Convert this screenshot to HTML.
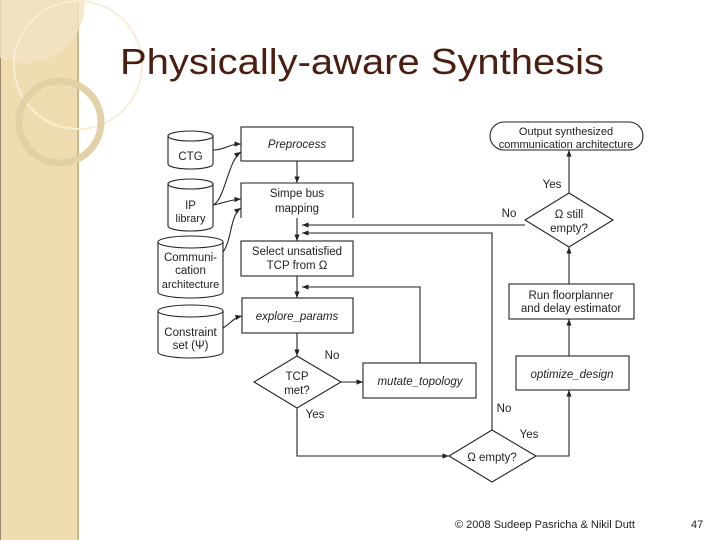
<!DOCTYPE html>
<html><head><meta charset="utf-8"><style>
html,body{margin:0;padding:0;background:#fff;}
svg{display:block;}
text{font-family:"Liberation Sans",sans-serif;fill:#222;}
</style></head><body>
<svg width="720" height="540" viewBox="0 0 720 540" xmlns="http://www.w3.org/2000/svg">
<defs>
<marker id="a" viewBox="0 0 10 10" refX="10" refY="5" markerWidth="6" markerHeight="6" orient="auto"><path d="M0,1 L10,5 L0,9 z" fill="#222"/></marker>
</defs>
<!-- sidebar -->
<rect x="0" y="0" width="78" height="540" fill="#efdcb0"/>
<rect x="77" y="0" width="2" height="540" fill="#c9b78f"/>
<rect x="0" y="0" width="1" height="540" fill="#9a8a6a"/>
<circle cx="25" cy="3" r="60" fill="#f3e5c4" opacity="0.8"/>
<circle cx="78" cy="65" r="64" fill="none" stroke="#f8eed6" stroke-width="2"/>
<circle cx="60" cy="122" r="41" fill="none" stroke="#e2d0a6" stroke-width="7"/>
<!-- title -->
<text x="120" y="74" font-size="36" textLength="484" lengthAdjust="spacingAndGlyphs" style="fill:#4a1e10">Physically-aware Synthesis</text>
<g stroke="#222" stroke-width="1.1" fill="#fff">
<path d="M168,136 v28 a22.5,5 0 0 0 45,0 v-28"/><ellipse cx="190.5" cy="136" rx="22.5" ry="5"/>
<path d="M168,184 v42 a22.5,5 0 0 0 45,0 v-42"/><ellipse cx="190.5" cy="184" rx="22.5" ry="5"/>
<path d="M158,242 v50 a32.5,6 0 0 0 65,0 v-50"/><ellipse cx="190.5" cy="242" rx="32.5" ry="6"/>
<path d="M158,311 v41 a32.5,6 0 0 0 65,0 v-41"/><ellipse cx="190.5" cy="311" rx="32.5" ry="6"/>
<rect x="241" y="127" width="112" height="34"/>
<path d="M241,218 V183 H353 V218"/>
<rect x="241" y="241" width="112" height="35"/>
<rect x="242" y="298" width="111" height="35"/>
<rect x="363" y="363" width="113" height="35"/>
<rect x="516" y="356" width="113" height="34"/>
<rect x="509" y="284" width="125" height="35"/>
<rect x="490" y="122" width="153" height="28" rx="14"/>
<path d="M297,356 L341,382 L297,408 L254,382 z"/>
<path d="M492,430 L536,456 L492,482 L449,456 z"/>
<path d="M569,193 L613,220 L569,247 L525,220 z"/>
</g>
<g stroke="#222" stroke-width="1.1" fill="none">
<path d="M213,150 C225,150 228,144 241,144" marker-end="url(#a)"/>
<path d="M213,205 C225,200 228,160 241,152" marker-end="url(#a)"/>
<path d="M213,205 C225,203 228,200 241,199" marker-end="url(#a)"/>
<path d="M223,252 C232,240 230,215 241,208" marker-end="url(#a)"/>
<path d="M223,328 C230,324 233,318 242,316" marker-end="url(#a)"/>
<line x1="297" y1="161" x2="297" y2="183" marker-end="url(#a)"/>
<line x1="297" y1="218" x2="297" y2="241" marker-end="url(#a)"/>
<line x1="297" y1="276" x2="297" y2="298" marker-end="url(#a)"/>
<line x1="297" y1="333" x2="297" y2="356" marker-end="url(#a)"/>
<line x1="341" y1="382" x2="363" y2="382" marker-end="url(#a)"/>
<polyline points="420,363 420,287 302,287" marker-end="url(#a)"/>
<polyline points="297,408 297,456 449,456" marker-end="url(#a)"/>
<polyline points="492,430 492,233 302,233" marker-end="url(#a)"/>
<line x1="525" y1="225" x2="302" y2="225" marker-end="url(#a)"/>
<polyline points="536,456 569,456 569,390" marker-end="url(#a)"/>
<line x1="569" y1="356" x2="569" y2="319" marker-end="url(#a)"/>
<line x1="569" y1="284" x2="569" y2="247" marker-end="url(#a)"/>
<line x1="569" y1="193" x2="569" y2="150" marker-end="url(#a)"/>
</g>
<g font-size="11.5" text-anchor="middle">
<text x="190.5" y="160">CTG</text>
<text x="190.5" y="209">IP</text>
<text x="190.5" y="222" font-size="11">library</text>
<text x="190.5" y="261">Communi-</text>
<text x="190.5" y="274">cation</text>
<text x="190.5" y="288" font-size="11">architecture</text>
<text x="190.5" y="336">Constraint</text>
<text x="190.5" y="349">set (Ψ)</text>
<text x="297" y="148" font-style="italic">Preprocess</text>
<text x="297" y="197">Simpe bus</text>
<text x="297" y="212">mapping</text>
<text x="297" y="255">Select unsatisfied</text>
<text x="297" y="269">TCP from Ω</text>
<text x="297" y="320" font-style="italic">explore_params</text>
<text x="297" y="380">TCP</text>
<text x="297" y="394">met?</text>
<text x="420" y="385" font-style="italic">mutate_topology</text>
<text x="572" y="378" font-style="italic">optimize_design</text>
<text x="571" y="299">Run floorplanner</text>
<text x="571" y="312">and delay estimator</text>
<text x="569" y="218">Ω still</text>
<text x="569" y="232">empty?</text>
<text x="566" y="135" font-size="11">Output synthesized</text>
<text x="566" y="148" font-size="11">communication architecture</text>
<text x="492" y="461">Ω empty?</text>
<text x="332" y="359">No</text>
<text x="315" y="418">Yes</text>
<text x="504" y="412">No</text>
<text x="529" y="438">Yes</text>
<text x="552" y="188">Yes</text>
<text x="509" y="217">No</text>
</g>
<text x="455" y="528" font-size="11">© 2008 Sudeep Pasricha &amp; Nikil Dutt</text>
<text x="691" y="528" font-size="11">47</text>
</svg>
</body></html>
